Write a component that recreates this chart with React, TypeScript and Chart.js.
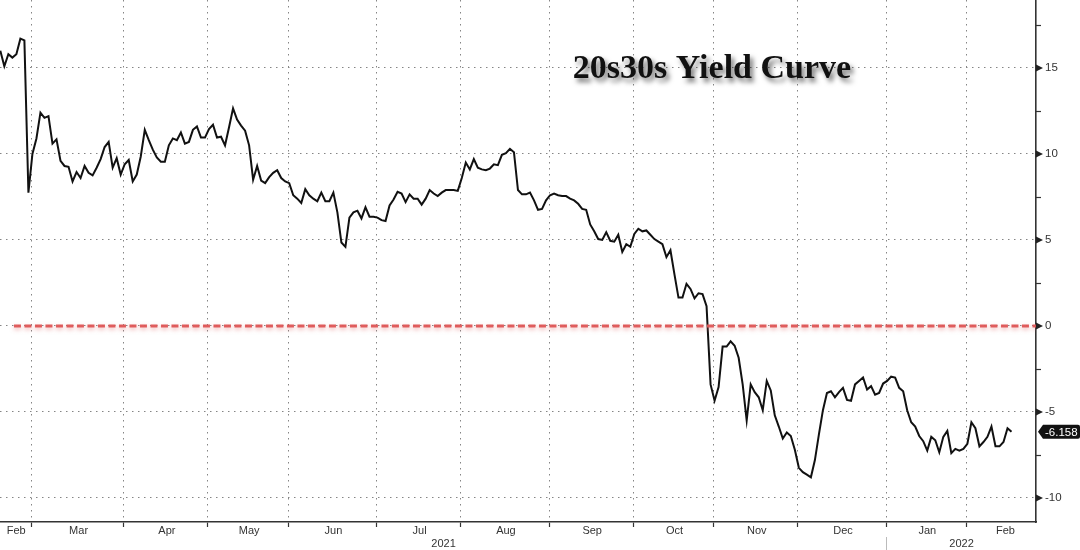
import React, { useEffect, useRef } from 'react';
import { Chart, registerables } from 'chart.js';

Chart.register(...registerables);

// ---- data ----
const TITLE = '20s30s Yield Curve';

// daily 20s30s spread (bp), one value per trading day from mid Feb 2021 to mid Feb 2022
const values: number[] = [
  16.0, 15.1, 15.8, 15.6, 15.8, 16.7, 16.6, 7.75, 10.0, 10.9,
  12.4, 12.1, 12.2, 10.6, 10.85, 9.6, 9.3, 9.25, 8.4, 8.95,
  8.6, 9.3, 8.9, 8.75, 9.2, 9.7, 10.4, 10.7, 9.2, 9.75,
  8.8, 9.4, 9.65, 8.4, 8.8, 9.85, 11.4, 10.8, 10.25, 9.8,
  9.55, 9.55, 10.5, 10.9, 10.8, 11.25, 10.6, 10.7, 11.4, 11.6,
  10.95, 10.95, 11.45, 11.7, 10.95, 11.0, 10.5, 11.55, 12.65, 12.0,
  11.65, 11.35, 10.5, 8.5, 9.3, 8.45, 8.3, 8.65, 8.9, 9.05,
  8.6, 8.4, 8.3, 7.6, 7.4, 7.15, 7.95, 7.6, 7.4, 7.25,
  7.75, 7.25, 7.25, 7.75, 6.6, 4.85, 4.6, 6.3, 6.6, 6.7,
  6.25, 6.9, 6.35, 6.35, 6.3, 6.15, 6.1, 7.0, 7.35, 7.8,
  7.7, 7.2, 7.65, 7.4, 7.4, 7.05, 7.4, 7.9, 7.7, 7.55,
  7.75, 7.9, 7.9, 7.9, 7.85, 8.6, 9.5, 9.1, 9.7, 9.2,
  9.1, 9.05, 9.15, 9.4, 9.35, 9.95, 10.05, 10.3, 10.1, 7.9,
  7.65, 7.65, 7.75, 7.3, 6.75, 6.8, 7.3, 7.6, 7.7, 7.6,
  7.55, 7.55, 7.4, 7.3, 7.1, 6.8, 6.75, 5.9, 5.5, 5.05,
  5.0, 5.45, 4.95, 4.9, 5.3, 4.3, 4.75, 4.6, 5.35, 5.65,
  5.5, 5.55, 5.3, 5.05, 4.9, 4.75, 4.0, 4.4, 3.0, 1.65,
  1.65, 2.45, 2.15, 1.6, 1.9, 1.85, 1.15, -3.4, -4.35, -3.55,
  -1.2, -1.2, -0.9, -1.15, -1.85, -3.4, -5.5, -3.4, -3.85, -4.15,
  -4.9, -3.2, -3.75, -5.2, -5.85, -6.55, -6.2, -6.4, -7.2, -8.25,
  -8.5, -8.65, -8.8, -7.8, -6.3, -4.9, -3.9, -3.8, -4.15, -3.85,
  -3.6, -4.3, -4.35, -3.4, -3.2, -3.0, -3.7, -3.5, -4.0, -3.9,
  -3.35, -3.2, -2.95, -3.0, -3.6, -3.8, -4.9, -5.6, -5.85, -6.4,
  -6.7, -7.25, -6.45, -6.65, -7.35, -6.45, -6.1, -7.4, -7.15, -7.25,
  -7.15, -6.85, -5.6, -5.95, -7.0, -6.75, -6.45, -5.85, -7.0, -7.0,
  -6.75, -5.95, -6.158,
];

// month labels and the trading-day index where each month starts
const monthLabels = ['Feb', 'Mar', 'Apr', 'May', 'Jun', 'Jul', 'Aug', 'Sep', 'Oct', 'Nov', 'Dec', 'Jan', 'Feb'];
const monthStartIdx = [-0.08, 8, 31, 52, 72, 94, 115, 137, 158, 178, 199, 221, 241];
const lastPeriodEndIdx = 260;
const yearLabels = ['2021', '2022'];
const yearStartIdx = [-0.08, 221];

const X_MIN = -0.08;
const X_MAX = 258.1;
const Y_MIN = -11.4;
const Y_MAX = 18.95;
const yMajorTicks = [-10, -5, 0, 5, 10, 15];
const yMinorTicks = [-7.5, -2.5, 2.5, 7.5, 12.5, 17.5];
const zeroLineX = [3.4, X_MAX];
const zeroLineY = [0, 0];

const AXIS_FONT = '"Liberation Sans", Arial, sans-serif';
const GRID_COLOR = '#858585';

const glowPlugin = {
  id: 'zeroGlow',
  beforeDatasetDraw(chart: any, args: any) {
    if (args.index === 1) {
      const c = chart.ctx;
      c.save();
      c.shadowColor = 'rgba(225,110,110,0.55)';
      c.shadowBlur = 4;
      c.shadowOffsetY = 2;
    }
  },
  afterDatasetDraw(chart: any, args: any) {
    if (args.index === 1) chart.ctx.restore();
  },
};

const overlayPlugin = {
  id: 'overlay',
  afterDraw(chart: any) {
    const { ctx, chartArea, scales } = chart;
    const xs = scales.x;
    const ys = scales.y;
    ctx.save();

    // month labels, centred in each month
    ctx.font = `11px ${AXIS_FONT}`;
    ctx.fillStyle = '#333';
    ctx.textAlign = 'center';
    ctx.textBaseline = 'middle';
    for (let k = 0; k < monthLabels.length; k++) {
      const a = monthStartIdx[k];
      const b = k + 1 < monthStartIdx.length ? monthStartIdx[k + 1] : lastPeriodEndIdx;
      ctx.fillText(monthLabels[k], xs.getPixelForValue((a + b) / 2), chartArea.bottom + 9);
    }
    // year labels
    for (let k = 0; k < yearLabels.length; k++) {
      const a = yearStartIdx[k];
      const b = k + 1 < yearStartIdx.length ? yearStartIdx[k + 1] : X_MAX;
      ctx.fillText(yearLabels[k], xs.getPixelForValue((a + b) / 2), chartArea.bottom + 22);
    }
    // year separator
    const sx = Math.round(xs.getPixelForValue(yearStartIdx[1] - 0.25)) + 0.5;
    ctx.strokeStyle = '#bbb';
    ctx.lineWidth = 1;
    ctx.beginPath();
    ctx.moveTo(sx, chartArea.bottom + 15);
    ctx.lineTo(sx, chartArea.bottom + 30);
    ctx.stroke();

    // y tick arrows
    ctx.fillStyle = '#222';
    for (const t of yMajorTicks) {
      const py = ys.getPixelForValue(t);
      ctx.beginPath();
      ctx.moveTo(chartArea.right, py - 3.5);
      ctx.lineTo(chartArea.right + 7, py);
      ctx.lineTo(chartArea.right, py + 3.5);
      ctx.closePath();
      ctx.fill();
    }
    // minor ticks
    ctx.strokeStyle = '#333';
    ctx.lineWidth = 1.2;
    for (const t of yMinorTicks) {
      const py = Math.round(ys.getPixelForValue(t)) + 0.5;
      ctx.beginPath();
      ctx.moveTo(chartArea.right, py);
      ctx.lineTo(chartArea.right + 5, py);
      ctx.stroke();
    }

    // last value tag
    const lastV = values[values.length - 1];
    const py = ys.getPixelForValue(lastV);
    const tip = chartArea.right + 2;
    const right = chart.width;
    ctx.fillStyle = '#111';
    ctx.beginPath();
    ctx.moveTo(tip, py);
    ctx.lineTo(tip + 5, py - 7);
    ctx.lineTo(right - 2, py - 7);
    ctx.quadraticCurveTo(right, py - 7, right, py - 5);
    ctx.lineTo(right, py + 5);
    ctx.quadraticCurveTo(right, py + 7, right - 2, py + 7);
    ctx.lineTo(tip + 5, py + 7);
    ctx.closePath();
    ctx.fill();
    ctx.fillStyle = '#fff';
    ctx.font = `11.5px ${AXIS_FONT}`;
    ctx.textAlign = 'left';
    ctx.textBaseline = 'middle';
    ctx.fillText(lastV.toFixed(3), tip + 7, py + 0.5);

    // title
    ctx.font = 'bold 34px "Liberation Serif", "Times New Roman", serif';
    ctx.textAlign = 'center';
    ctx.textBaseline = 'alphabetic';
    ctx.shadowColor = 'rgba(0,0,0,0.55)';
    ctx.shadowBlur = 5;
    ctx.shadowOffsetX = 3;
    ctx.shadowOffsetY = 4;
    ctx.fillStyle = '#111';
    ctx.fillText(TITLE, 712, 78);

    ctx.restore();
  },
};

export default function App() {
  const ref = useRef<HTMLCanvasElement | null>(null);

  useEffect(() => {
    if (!ref.current) return;
    const chart = new Chart(ref.current, {
      type: 'line',
      data: {
        datasets: [
          {
            label: '20s30s',
            data: values.map((v, i) => ({ x: i, y: v })),
            borderColor: '#111',
            borderWidth: 2,
            pointRadius: 0,
            tension: 0,
            order: 1,
          },
          {
            label: 'zero',
            data: zeroLineX.map((x, i) => ({ x, y: zeroLineY[i] })),
            borderColor: 'rgba(222,85,85,0.95)',
            borderWidth: 3,
            borderDash: [7, 3.5],
            pointRadius: 0,
            order: 0,
          },
        ],
      },
      options: {
        responsive: false,
        animation: false,
        layout: { padding: 0, autoPadding: false },
        plugins: {
          legend: { display: false },
          tooltip: { enabled: false },
          title: { display: false },
        },
        scales: {
          x: {
            type: 'linear',
            min: X_MIN,
            max: X_MAX,
            afterBuildTicks: (scale: any) => {
              scale.ticks = monthStartIdx.slice(1).map((v) => ({ value: v - 0.25 }));
            },
            afterFit: (scale: any) => {
              scale.height = 28;
              scale.paddingLeft = 0;
              scale.paddingRight = 0;
            },
            ticks: { display: false },
            grid: {
              color: GRID_COLOR,
              lineWidth: 1,
              drawTicks: true,
              tickLength: 5,
              tickColor: '#333',
              tickWidth: 1.2,
            },
            border: { display: true, color: '#333', width: 1.6, dash: [1.5, 4.5] },
          },
          y: {
            position: 'right',
            min: Y_MIN,
            max: Y_MAX,
            afterBuildTicks: (scale: any) => {
              scale.ticks = yMajorTicks.map((v) => ({ value: v }));
            },
            afterFit: (scale: any) => {
              scale.width = 44;
              scale.paddingTop = 0;
              scale.paddingBottom = 0;
            },
            ticks: {
              padding: 9,
              color: '#333',
              font: { family: AXIS_FONT, size: 11.5 },
              callback: (v: any) => String(v),
            },
            grid: { color: GRID_COLOR, lineWidth: 1, drawTicks: false },
            border: { display: true, color: '#333', width: 1.6, dash: [1.5, 4.5] },
          },
        },
      },
      plugins: [glowPlugin, overlayPlugin],
    });
    return () => chart.destroy();
  }, []);

  return (
    <div style={{ position: 'fixed', left: 0, top: 0, width: 1080, height: 550, background: '#fff' }}>
      <canvas ref={ref} width={1080} height={550} style={{ display: 'block' }} />
    </div>
  );
}
